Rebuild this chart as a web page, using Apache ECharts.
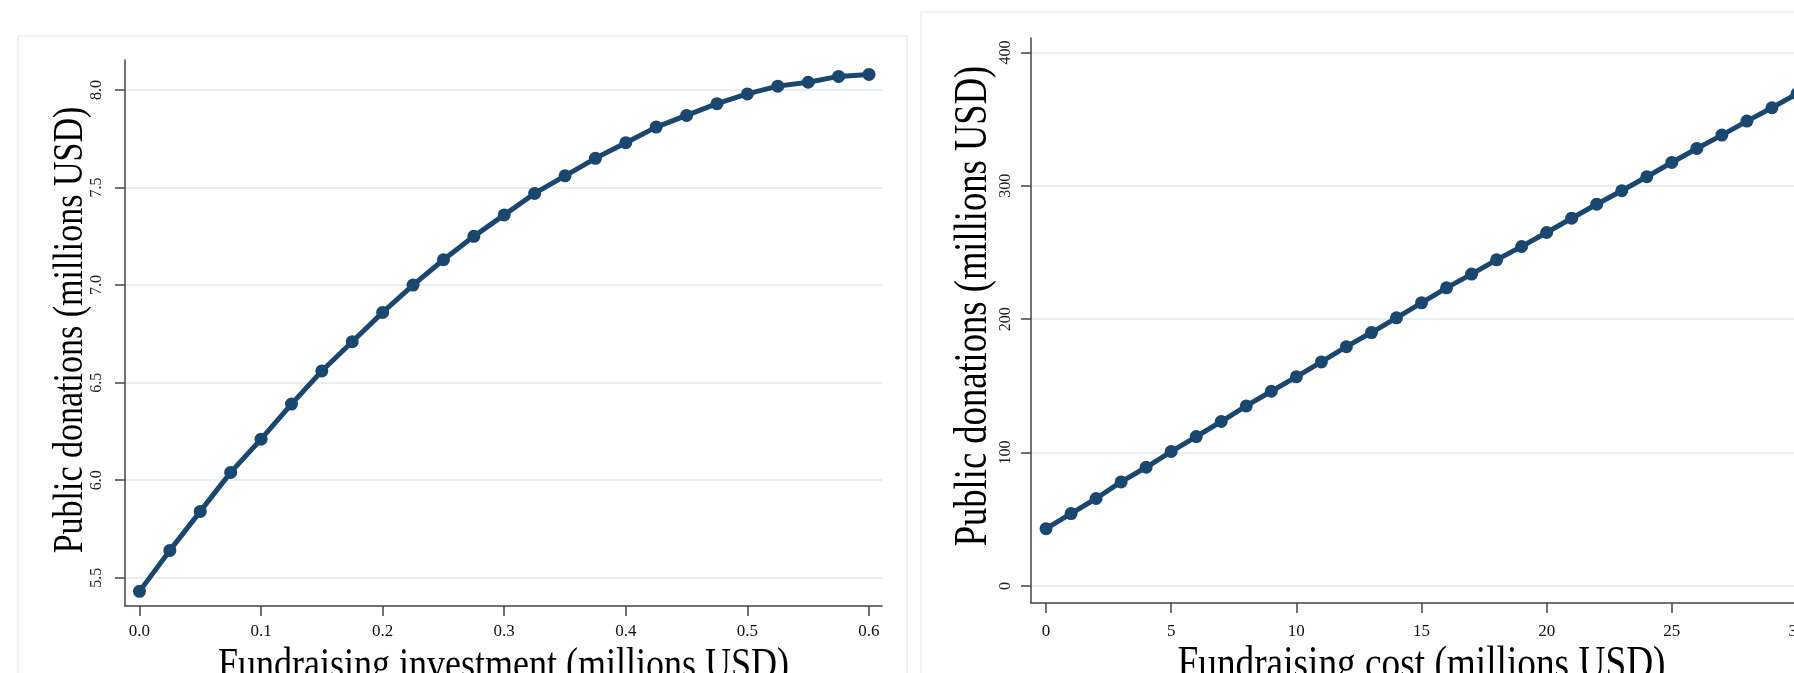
<!DOCTYPE html>
<html>
<head>
<meta charset="utf-8">
<style>
html,body{margin:0;padding:0;background:#fff;overflow:hidden;}
#c{width:1794px;height:673px;}
</style>
<script src="https://cdn.jsdelivr.net/npm/echarts@6/dist/echarts.min.js"></script>
</head>
<body>
<div id="c"></div>
<script>
// ---- data ----
const investX = [0, 0.025, 0.05, 0.075, 0.1, 0.125, 0.15, 0.175, 0.2, 0.225, 0.25, 0.275, 0.3,
                 0.325, 0.35, 0.375, 0.4, 0.425, 0.45, 0.475, 0.5, 0.525, 0.55, 0.575, 0.6];
const investDonations = [5.43, 5.64, 5.84, 6.04, 6.21, 6.39, 6.56, 6.71, 6.86, 7.00, 7.13, 7.25, 7.36,
                         7.47, 7.56, 7.65, 7.73, 7.81, 7.87, 7.93, 7.98, 8.02, 8.04, 8.07, 8.08];
const costX = [0, 1, 2, 3, 4, 5, 6, 7, 8, 9, 10, 11, 12, 13, 14, 15, 16, 17, 18, 19, 20,
               21, 22, 23, 24, 25, 26, 27, 28, 29, 30];
const costDonations = [43, 54.3, 65.6, 78, 89, 100.8, 112, 123.3, 135, 146, 156.8, 168, 179.4, 190,
                       201, 212.3, 223.5, 233.8, 244.5, 254.5, 265, 275.7, 286.2, 296.3, 306.8,
                       317.5, 328, 338, 348.5, 358.5, 369];
const leftXTicks = [0, 0.1, 0.2, 0.3, 0.4, 0.5, 0.6];
const leftYTicks = [5.5, 6.0, 6.5, 7.0, 7.5, 8.0];
const rightXTicks = [0, 5, 10, 15, 20, 25, 30];
const rightYTicks = [0, 100, 200, 300, 400];
const leftXTitle = 'Fundraising investment (millions USD)';
const rightXTitle = 'Fundraising cost (millions USD)';
const yTitle = 'Public donations (millions USD)';

const FONT = '"Liberation Serif", "DejaVu Serif", serif';
const NAVY = '#1a476f';
const AXIS = '#444';
const GRID = '#e8eff2';

function xAxisCfg(gridIndex, min, max, ticks, fmt, margin) {
  return {
    type: 'value', gridIndex, min, max,
    axisLine: {show: true, onZero: false, lineStyle: {color: AXIS, width: 1.5}},
    axisTick: {show: true, length: 10, customValues: ticks, lineStyle: {color: AXIS, width: 1.5}},
    axisLabel: {customValues: ticks, formatter: fmt, fontFamily: FONT, fontSize: 17, color: '#111', margin},
    splitLine: {show: false}
  };
}
function yAxisCfg(gridIndex, min, max, ticks, fmt, margin) {
  return {
    type: 'value', gridIndex, min, max,
    axisLine: {show: true, onZero: false, lineStyle: {color: AXIS, width: 1.5}},
    axisTick: {show: true, length: 10, customValues: ticks, lineStyle: {color: AXIS, width: 1.5}},
    axisLabel: {customValues: ticks, formatter: fmt, rotate: 90, fontFamily: FONT, fontSize: 16, color: '#222', margin},
    splitLine: {show: true, lineStyle: {color: GRID, width: 2}}
  };
}
function title(text, x, y, size, rotation) {
  return {
    type: 'text', x, y, rotation: rotation || 0, scaleY: 1.25, z: 10,
    style: {text, fontFamily: FONT, fontSize: size, fill: '#000', align: 'center', verticalAlign: 'middle'}
  };
}

const chart = echarts.init(document.getElementById('c'), null, {renderer: 'canvas'});
chart.setOption({
  backgroundColor: '#fff',
  animation: false,
  graphic: [
    {type: 'rect', shape: {x: 18, y: 36, width: 889, height: 700}, style: {fill: 'none', stroke: '#e9f0f0', lineWidth: 1.5}, z: -1},
    {type: 'rect', shape: {x: 921, y: 12, width: 950, height: 700}, style: {fill: 'none', stroke: '#e9f0f0', lineWidth: 1.5}, z: -1},
    title(leftXTitle, 503.5, 666, 36),
    title(rightXTitle, 1421.5, 666, 37.3),
    title(yTitle, 71, 330, 34, Math.PI / 2),
    title(yTitle, 974, 306, 36.6, Math.PI / 2)
  ],
  grid: [
    {left: 125, top: 60, width: 757, height: 546, outerBoundsMode: 'none', containLabel: false},
    {left: 1031, top: 38, width: 781, height: 565, outerBoundsMode: 'none', containLabel: false}
  ],
  xAxis: [
    xAxisCfg(0, -0.0119, 0.6107, leftXTicks, v => Number(v).toFixed(1), 17),
    xAxisCfg(1, -0.6, 30.6, rightXTicks, v => String(v), 20)
  ],
  yAxis: [
    yAxisCfg(0, 5.355, 8.154, leftYTicks, v => Number(v).toFixed(1), 20),
    yAxisCfg(1, -12.75, 410.8, rightYTicks, v => String(v), 17)
  ],
  series: [
    {type: 'line', xAxisIndex: 0, yAxisIndex: 0,
     data: investX.map((x, i) => [x, investDonations[i]]),
     symbol: 'circle', symbolSize: 13, showAllSymbol: true,
     lineStyle: {color: NAVY, width: 5}, itemStyle: {color: NAVY}},
    {type: 'line', xAxisIndex: 1, yAxisIndex: 1,
     data: costX.map((x, i) => [x, costDonations[i]]),
     symbol: 'circle', symbolSize: 13, showAllSymbol: true,
     lineStyle: {color: NAVY, width: 5}, itemStyle: {color: NAVY}}
  ]
});
</script>
</body>
</html>
